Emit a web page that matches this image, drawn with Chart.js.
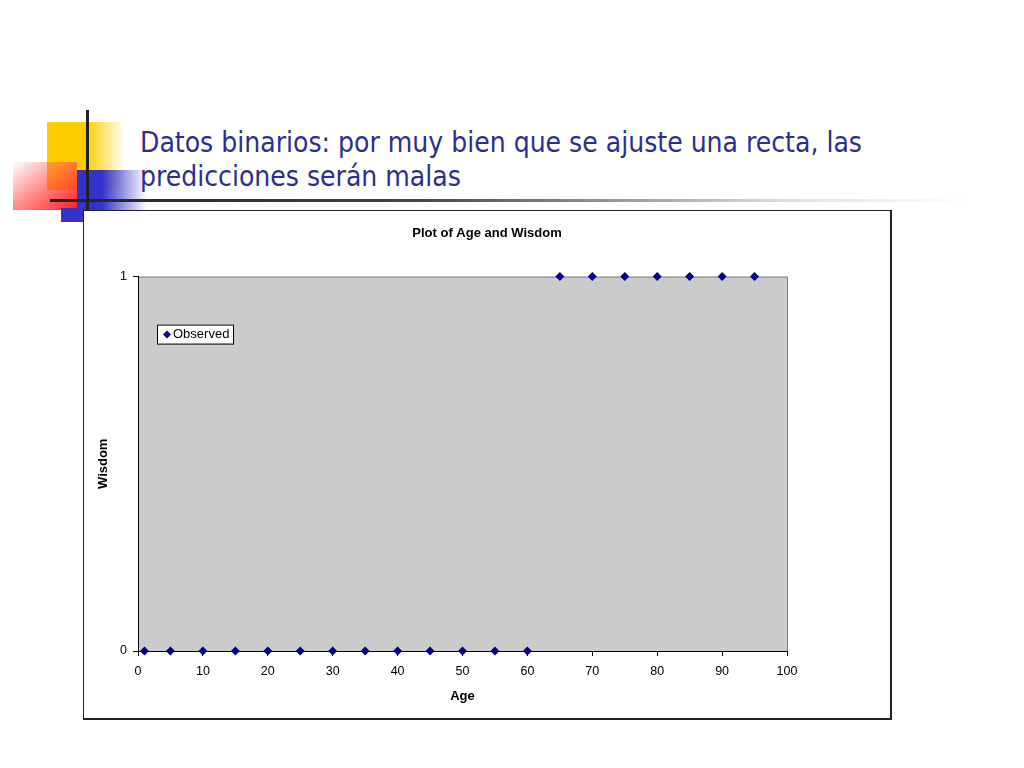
<!DOCTYPE html>
<html>
<head>
<meta charset="utf-8">
<script src="https://cdn.jsdelivr.net/npm/chart.js@4.4.0/dist/chart.umd.min.js"></script>
<style>
html,body{margin:0;padding:0;background:#fff;width:1024px;height:768px;overflow:hidden;position:relative;}
.abs{position:absolute;}
#yellow{left:47px;top:122px;width:78px;height:68px;background:linear-gradient(to right,#ffcc00 0%,#ffcc00 50%,rgba(255,204,0,0) 100%);}
#red{left:13px;top:162px;width:64px;height:48px;background:linear-gradient(to left top,#ff2020 0%,rgba(255,80,80,0.6) 55%,rgba(255,255,255,0) 100%);}
#blue{left:77px;top:170px;width:70px;height:40px;background:linear-gradient(to right,#3333cc 0%,#3333cc 35%,rgba(51,51,204,0) 100%);}
#blue2{left:61px;top:208px;width:22px;height:14px;background:#3333cc;}
#vline{left:86px;top:110px;width:3px;height:106px;background:#222;}
#hline{left:50px;top:199px;width:920px;height:3px;background:linear-gradient(to right,#222 0%,#444 40%,rgba(200,200,200,0.6) 80%,rgba(255,255,255,0) 100%);}
#title{left:140px;top:126px;font-family:"DejaVu Sans Condensed","DejaVu Sans",sans-serif;font-size:28px;line-height:34px;color:#2e2e92;white-space:nowrap;}
#frame{left:83px;top:210px;width:806px;height:507px;border:2px solid #222;border-left-width:1px;border-top-width:1px;background:#fff;}
#c{position:absolute;left:0;top:0;}
</style>
</head>
<body>
<div id="yellow" class="abs"></div>
<div id="red" class="abs"></div>
<div id="blue" class="abs"></div>
<div id="blue2" class="abs"></div>
<div id="hline" class="abs"></div>
<div id="vline" class="abs"></div>
<div id="title" class="abs">Datos binarios: por muy bien que se ajuste una recta, las<br>predicciones serán malas</div>
<div id="frame" class="abs"><canvas id="c" width="806" height="507"></canvas></div>
<script>
const chartTitle = "Plot of Age and Wisdom";
const seriesName = "Observed";
const xAxisTitle = "Age";
const yAxisTitle = "Wisdom";
const ages = [1, 5, 10, 15, 20, 25, 30, 35, 40, 45, 50, 55, 60, 65, 70, 75, 80, 85, 90, 95];
const wisdom = [0, 0, 0, 0, 0, 0, 0, 0, 0, 0, 0, 0, 0, 1, 1, 1, 1, 1, 1, 1];
const xTicks = [0, 10, 20, 30, 40, 50, 60, 70, 80, 90, 100];
const yTicks = [0, 1];

const FONT = '"Liberation Sans", Arial, sans-serif';
const navy = '#000080';

const plotBg = {
  id: 'plotBg',
  beforeDraw(chart) {
    const {ctx, chartArea: a} = chart;
    ctx.save();
    ctx.fillStyle = '#cbcbcb';
    ctx.fillRect(a.left, a.top, a.right - a.left, a.bottom - a.top);
    ctx.strokeStyle = '#808080';
    ctx.lineWidth = 1;
    ctx.beginPath();
    ctx.moveTo(a.left, a.top + 0.5);
    ctx.lineTo(a.right + 0.5, a.top + 0.5);
    ctx.lineTo(a.right + 0.5, a.bottom);
    ctx.stroke();
    ctx.restore();
  }
};

const boxLegend = {
  id: 'boxLegend',
  afterDatasetsDraw(chart) {
    const {ctx, chartArea: a} = chart;
    const x = a.left + 19, y = a.top + 48, w = 76, h = 19;
    ctx.save();
    ctx.fillStyle = '#fff';
    ctx.fillRect(x, y, w, h);
    ctx.strokeStyle = '#000';
    ctx.lineWidth = 1;
    ctx.strokeRect(x + 0.5, y + 0.5, w, h);
    const ds = chart.data.datasets[0];
    const cx = x + 10, cy = y + h / 2 + 0.5;
    ctx.fillStyle = navy;
    ctx.beginPath();
    ctx.moveTo(cx, cy - 4);
    ctx.lineTo(cx + 4, cy);
    ctx.lineTo(cx, cy + 4);
    ctx.lineTo(cx - 4, cy);
    ctx.closePath();
    ctx.fill();
    ctx.fillStyle = '#000';
    ctx.font = '13px ' + FONT;
    ctx.textBaseline = 'middle';
    ctx.fillText(ds.label, cx + 6, cy);
    ctx.restore();
  }
};

new Chart(document.getElementById('c'), {
  type: 'scatter',
  data: {
    datasets: [{
      label: seriesName,
      data: ages.map((a, i) => ({x: a, y: wisdom[i]})),
      pointStyle: 'rectRot',
      pointRadius: 4.5,
      pointHoverRadius: 4.5,
      backgroundColor: navy,
      borderColor: navy,
      borderWidth: 0,
      showLine: false,
      clip: false
    }]
  },
  options: {
    responsive: false,
    animation: false,
    events: [],
    layout: {padding: {left: 0, right: 0, top: 0, bottom: 0}},
    plugins: {
      legend: {display: false},
      tooltip: {enabled: false},
      title: {
        display: true,
        text: chartTitle,
        color: '#000',
        font: {family: FONT, size: 13, weight: 'bold'},
        padding: {top: 15, bottom: 35}
      }
    },
    scales: {
      x: {
        type: 'linear',
        min: 0, max: 100,
        afterBuildTicks(s) { s.ticks = xTicks.map(v => ({value: v})); },
        afterFit(s) { s.height = 67; },
        ticks: {color: '#000', font: {family: FONT, size: 12.5}, padding: 8, maxRotation: 0, autoSkip: false},
        grid: {drawOnChartArea: false, drawTicks: true, tickLength: 5, color: '#000'},
        border: {display: true, color: '#000', width: 1},
        title: {display: true, text: xAxisTitle, color: '#000', font: {family: FONT, size: 13, weight: 'bold'}, padding: {top: 4, bottom: 14}}
      },
      y: {
        type: 'linear',
        min: 0, max: 1,
        afterBuildTicks(s) { s.ticks = yTicks.map(v => ({value: v})); },
        afterFit(s) { s.width = 54; },
        ticks: {color: '#000', font: {family: FONT, size: 12.5}, padding: 6},
        grid: {drawOnChartArea: false, drawTicks: true, tickLength: 5, color: '#000'},
        border: {display: true, color: '#000', width: 1},
        title: {display: true, text: yAxisTitle, color: '#000', font: {family: FONT, size: 13, weight: 'bold'}, padding: {top: 12, bottom: 0}}
      },
      yRight: {
        type: 'linear',
        position: 'right',
        display: true,
        min: 0, max: 1,
        afterFit(s) { s.width = 103; },
        ticks: {display: false},
        grid: {display: false, drawTicks: false},
        border: {display: false}
      }
    }
  },
  plugins: [plotBg, boxLegend]
});
</script>
</body>
</html>
